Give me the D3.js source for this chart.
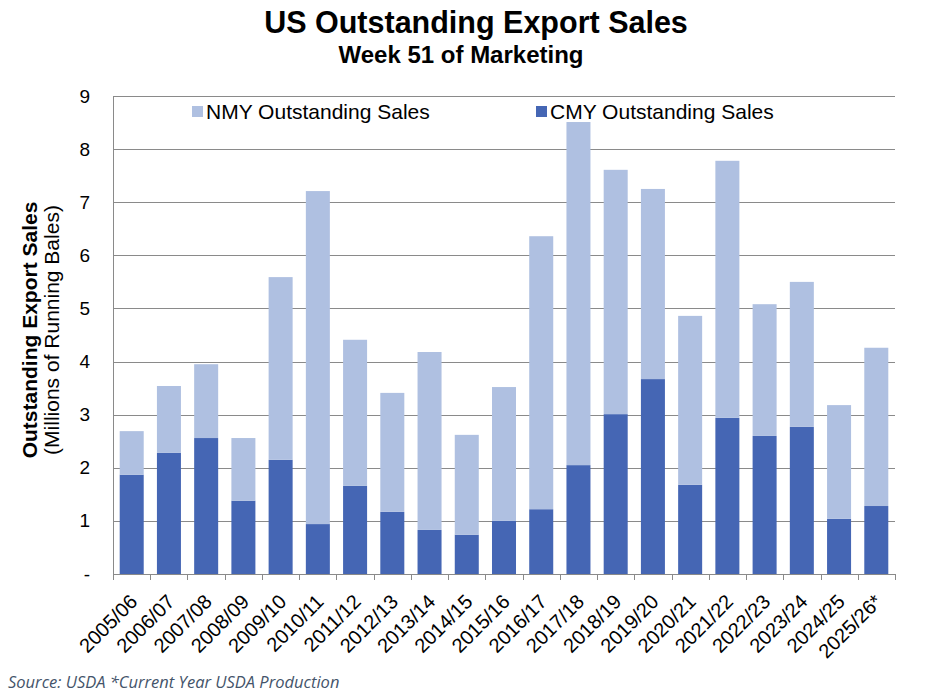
<!DOCTYPE html>
<html>
<head>
<meta charset="utf-8">
<script src="https://cdn.jsdelivr.net/npm/d3@7"></script>
<style>
  body { margin: 0; background: #fff; }
  svg { display: block; font-family: Arial, "Liberation Sans", sans-serif; }
</style>
</head>
<body>
<svg id="chart" width="938" height="696"></svg>
<script>
"use strict";
var years = [ "2005/06", "2006/07", "2007/08", "2008/09", "2009/10", "2010/11", "2011/12",
  "2012/13", "2013/14", "2014/15", "2015/16", "2016/17", "2017/18", "2018/19", "2019/20",
  "2020/21", "2021/22", "2022/23", "2023/24", "2024/25", "2025/26*" ];
// current marketing year outstanding sales (million running bales)
var cmy = [ 1.87, 2.28, 2.56, 1.38, 2.15, 0.94, 1.66, 1.17, 0.83, 0.74, 1.00,
  1.22, 2.05, 3.01, 3.67, 1.68, 2.94, 2.60, 2.77, 1.04, 1.28 ];
// next marketing year outstanding sales
var nmy = [ 0.82, 1.26, 1.39, 1.18, 3.44, 6.27, 2.75, 2.24, 3.35, 1.88, 2.52,
  5.14, 6.46, 4.60, 3.58, 3.18, 4.84, 2.48, 2.73, 2.14, 2.98 ];
var yTicks = [ 0, 1, 2, 3, 4, 5, 6, 7, 8, 9 ];

var svg = d3.select( "#chart" );
var margin = { top: 96, right: 43, bottom: 122, left: 113 };
var width = 938 - margin.left - margin.right;
var height = 696 - margin.top - margin.bottom;

var x = d3.scaleBand().domain( years ).range( [ 0, width ] ).paddingInner( 0.355 ).paddingOuter( 0.18 );
var y = d3.scaleLinear().domain( [ 0, 9 ] ).range( [ height, 0 ] );

var rows = years.map( function( yr, i ) {
  return { year: yr, cmy: cmy[i], nmy: nmy[i] };
} );
var stack = d3.stack().keys( [ "cmy", "nmy" ] )( rows );
var colors = { cmy: "#4566b4", nmy: "#afc0e1" };

var g = svg.append( "g" ).attr( "transform", "translate(" + margin.left + "," + margin.top + ")" );

// gridlines
g.append( "g" ).selectAll( "line" )
  .data( yTicks.slice( 1 ) )
  .join( "line" )
  .attr( "x1", 0 ).attr( "x2", width )
  .attr( "y1", function( d ) { return Math.round( y( d ) ) + 0.5; } )
  .attr( "y2", function( d ) { return Math.round( y( d ) ) + 0.5; } )
  .attr( "stroke", "#8a8a8a" ).attr( "stroke-width", 1 );

// bars
g.append( "g" ).selectAll( "g" )
  .data( stack )
  .join( "g" )
  .attr( "fill", function( d ) { return colors[d.key]; } )
  .selectAll( "rect" )
  .data( function( d ) { return d; } )
  .join( "rect" )
  .attr( "x", function( d ) { return x( d.data.year ); } )
  .attr( "width", x.bandwidth() )
  .attr( "y", function( d ) { return y( d[1] ); } )
  .attr( "height", function( d ) { return y( d[0] ) - y( d[1] ); } );

// y axis
var yAxis = g.append( "g" )
  .call( d3.axisLeft( y ).tickValues( yTicks ).tickSize( 0 ).tickPadding( 23 )
    .tickFormat( function( d ) { return d === 0 ? "-" : d; } ) );
yAxis.select( ".domain" ).attr( "stroke", "#8a8a8a" );
yAxis.selectAll( "text" ).attr( "font-size", 19 ).attr( "fill", "#000" ).attr( "font-family", null );

// x axis: ticks sit at band boundaries like Excel
var bounds = d3.range( years.length + 1 ).map( function( i ) { return i * width / years.length; } );
g.append( "line" )
  .attr( "x1", 0 ).attr( "x2", width )
  .attr( "y1", height + 0.5 ).attr( "y2", height + 0.5 )
  .attr( "stroke", "#8a8a8a" );
g.append( "g" ).selectAll( "line" )
  .data( bounds )
  .join( "line" )
  .attr( "x1", function( d ) { return Math.round( d ) + 0.5; } )
  .attr( "x2", function( d ) { return Math.round( d ) + 0.5; } )
  .attr( "y1", height ).attr( "y2", height + 6 )
  .attr( "stroke", "#8a8a8a" );
g.append( "g" ).selectAll( "text" )
  .data( years )
  .join( "text" )
  .attr( "transform", function( d ) {
    return "translate(" + ( x( d ) + x.bandwidth() / 2 + 7 ) + "," + ( height + 29 ) + ") rotate(-45)";
  } )
  .attr( "text-anchor", "end" )
  .attr( "font-size", 20 )
  .text( function( d ) { return d; } );

// legend
var legend = [ { key: "nmy", label: "NMY Outstanding Sales", x: 192 },
  { key: "cmy", label: "CMY Outstanding Sales", x: 536 } ];
var lg = svg.append( "g" ).selectAll( "g" ).data( legend ).join( "g" )
  .attr( "transform", function( d ) { return "translate(" + d.x + ",106)"; } );
lg.append( "rect" ).attr( "width", 11 ).attr( "height", 11 )
  .attr( "fill", function( d ) { return colors[d.key]; } );
lg.append( "text" ).attr( "x", 14 ).attr( "y", 13 ).attr( "font-size", 21 )
  .text( function( d ) { return d.label; } );

// titles
svg.append( "text" ).attr( "x", 476 ).attr( "y", 33 ).attr( "text-anchor", "middle" )
  .attr( "font-size", 30.5 ).attr( "font-weight", "bold" ).text( "US Outstanding Export Sales" );
svg.append( "text" ).attr( "x", 461 ).attr( "y", 63 ).attr( "text-anchor", "middle" )
  .attr( "font-size", 24 ).attr( "font-weight", "bold" ).text( "Week 51 of Marketing" );

var yt = svg.append( "text" ).attr( "transform", "translate(37,330) rotate(-90)" )
  .attr( "text-anchor", "middle" );
yt.append( "tspan" ).attr( "x", 0 ).attr( "font-size", 21 ).attr( "font-weight", "bold" )
  .text( "Outstanding Export Sales" );
yt.append( "tspan" ).attr( "x", 0 ).attr( "dy", 22 ).attr( "font-size", 21 )
  .text( "(Millions of Running Bales)" );

svg.append( "text" ).attr( "x", 8 ).attr( "y", 688 )
  .attr( "font-family", "'Open Sans', sans-serif" ).attr( "font-style", "italic" )
  .attr( "font-size", 16.5 ).attr( "fill", "#44546a" )
  .text( "Source: USDA *Current Year USDA Production" );
</script>
</body>
</html>
